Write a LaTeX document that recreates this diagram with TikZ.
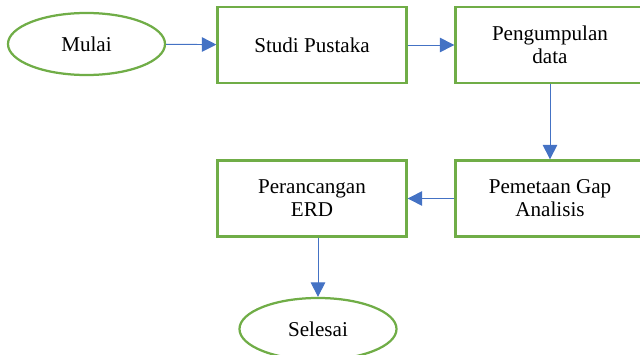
\documentclass[tikz,border=0pt]{standalone}
\usepackage{fontspec}
\setmainfont{Liberation Serif}
\usepackage{xcolor}
\usepackage{tikz}
\usetikzlibrary{arrows.meta,shapes.geometric}

\definecolor{boxgreen}{HTML}{70AD47}
\definecolor{arrowblue}{HTML}{4472C4}

\begin{document}
\begin{tikzpicture}[x=0.025cm,y=-0.025cm,
    box/.style={draw=boxgreen,line width=1.6pt,minimum width=47.25mm,minimum height=19mm,
      inner sep=0pt,align=center,font=\fontsize{15}{16.5}\selectfont},
    term/.style={ellipse,draw=boxgreen,line width=1.6pt,minimum width=39.25mm,minimum height=15.5mm,
      inner sep=0pt,font=\fontsize{15}{16.5}\selectfont},
    flow/.style={draw=arrowblue,line width=0.7pt,-{Triangle[length=3.6mm,width=3.6mm]}}]
  \useasboundingbox (0,0) rectangle (640,355);
  % top row
  \node[term] (mulai) at (86.5,44) {Mulai};
  \node[box] (studi) at (312,45) {Studi Pustaka};
  \node[box] (kumpul) at (550,45) {Pengumpulan\\data};
  % bottom row
  \node[box] (gap) at (550,198.5) {Pemetaan Gap\\Analisis};
  \node[box] (erd) at (312,198.5) {Perancangan\\ERD};
  \node[term] (selesai) at (318,329) {Selesai};
  % connectors
  \draw[flow] (mulai) -- (studi);
  \draw[flow] (studi) -- (kumpul);
  \draw[flow] (kumpul) -- (gap);
  \draw[flow] (gap) -- (erd);
  \draw[flow] (selesai.north |- erd.south) -- (selesai);
\end{tikzpicture}
\end{document}
